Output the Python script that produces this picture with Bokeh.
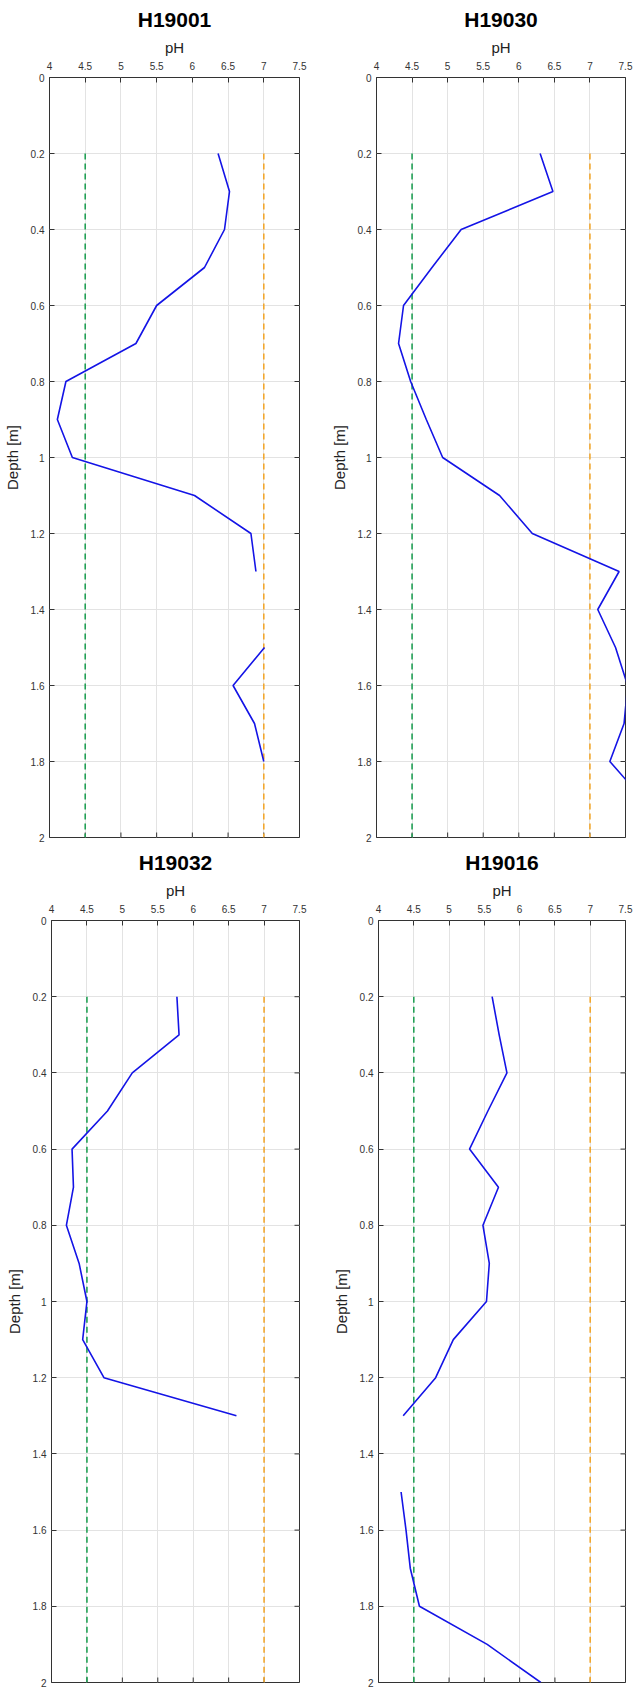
from bokeh.plotting import figure
from bokeh.models import Range1d, FixedTicker, CustomJSTickFormatter
from bokeh.layouts import column, row
from bokeh.embed import file_html
from bokeh.resources import INLINE
import math

nan = float("nan")

# ---- data ----
site_names = ["H19001", "H19030", "H19032", "H19016"]

depth_h19001 = [0.2, 0.3, 0.4, 0.5, 0.6, 0.7, 0.8, 0.9, 1.0, 1.1, 1.2, 1.3, 1.4, 1.5, 1.6, 1.7, 1.8]
ph_h19001 = [6.36, 6.52, 6.45, 6.17, 5.50, 5.21, 4.23, 4.11, 4.32, 6.03, 6.82, 6.89, nan, 7.01, 6.57, 6.87, 7.00]

depth_h19030 = [0.2, 0.3, 0.4, 0.5, 0.6, 0.7, 0.8, 0.9, 1.0, 1.1, 1.2, 1.3, 1.4, 1.5, 1.6, 1.7, 1.8, 1.9]
ph_h19030 = [6.30, 6.48, 5.19, 4.78, 4.38, 4.31, 4.48, 4.70, 4.93, 5.73, 6.19, 7.41, 7.11, 7.36, 7.53, 7.48, 7.28, 7.75]

depth_h19032 = [0.2, 0.3, 0.4, 0.5, 0.6, 0.7, 0.8, 0.9, 1.0, 1.1, 1.2, 1.3]
ph_h19032 = [5.77, 5.80, 5.14, 4.79, 4.29, 4.31, 4.21, 4.39, 4.50, 4.44, 4.74, 6.61]

depth_h19016 = [0.2, 0.3, 0.4, 0.5, 0.6, 0.7, 0.8, 0.9, 1.0, 1.1, 1.2, 1.3, 1.4, 1.5, 1.6, 1.7, 1.8, 1.9, 2.0]
ph_h19016 = [5.61, 5.71, 5.82, 5.55, 5.29, 5.70, 5.48, 5.57, 5.53, 5.06, 4.81, 4.35, nan, 4.32, 4.39, 4.45, 4.58, 5.54, 6.30]

limit_low = 4.5
limit_high = 7.0
limit_depths = [0.2, 2.0]

x_ticks = [4, 4.5, 5, 5.5, 6, 6.5, 7, 7.5]
y_ticks = [0, 0.2, 0.4, 0.6, 0.8, 1.0, 1.2, 1.4, 1.6, 1.8, 2.0]

FONT = "Liberation Sans"
AX_COLOR = "#333333"


def style_axis(ax):
    ax.major_tick_in = 5
    ax.major_tick_out = 0
    ax.minor_tick_line_color = None
    ax.axis_line_color = None
    ax.major_tick_line_color = AX_COLOR
    ax.major_tick_line_width = 1
    ax.formatter = CustomJSTickFormatter(code="return String(Number(tick.toFixed(2)));")
    ax.major_label_text_font = FONT
    ax.major_label_text_font_size = "10px"
    ax.major_label_text_color = AX_COLOR
    ax.axis_label_text_font = FONT
    ax.axis_label_text_font_size = "15px"
    ax.axis_label_text_font_style = "normal"
    ax.axis_label_text_color = "#222222"


def panel(name, depth, ph, width, height, bl, br, bt, bb):
    p = figure(width=width, height=height, output_backend="svg", toolbar_location=None,
               x_range=Range1d(x_ticks[0], x_ticks[-1]), y_range=Range1d(y_ticks[-1], y_ticks[0]),
               x_axis_location="above", y_axis_location="left",
               min_border_left=bl, min_border_right=br,
               min_border_top=bt, min_border_bottom=bb, title=name)
    p.title.text_font = FONT
    p.title.text_font_size = "21px"
    p.title.text_font_style = "bold"
    p.title.text_color = "black"
    p.title.align = "center"
    p.title.standoff = 10

    xt = FixedTicker(ticks=x_ticks)
    yt = FixedTicker(ticks=y_ticks)
    p.xaxis.ticker = xt
    p.yaxis.ticker = yt
    p.xaxis.axis_label = "pH"
    p.yaxis.axis_label = "Depth [m]"
    for ax in p.xaxis + p.yaxis:
        style_axis(ax)
    p.xaxis.major_label_standoff = 8
    p.yaxis.major_label_standoff = 5
    p.xaxis.axis_label_standoff = 3
    p.yaxis.axis_label_standoff = 7

    p.xgrid.ticker = xt
    p.ygrid.ticker = yt
    p.xgrid.grid_line_color = "#e3e3e3"
    p.ygrid.grid_line_color = "#e3e3e3"
    p.outline_line_color = AX_COLOR
    p.outline_line_width = 1
    p.outline_line_alpha = 1
    p.background_fill_color = "white"
    p.border_fill_color = "white"

    # inward tick marks on the right and bottom edges of the box
    p.ray(x=[x_ticks[-1]] * len(y_ticks), y=y_ticks, length=5, length_units="screen",
          angle=math.pi, line_color=AX_COLOR, line_width=1)
    p.ray(x=x_ticks, y=[y_ticks[-1]] * len(x_ticks), length=5, length_units="screen",
          angle=math.pi / 2, line_color=AX_COLOR, line_width=1)

    p.line([limit_low, limit_low], limit_depths, line_color="#22a055", line_width=1.6, line_dash="6 4")
    p.line([limit_high, limit_high], limit_depths, line_color="#f2a72e", line_width=1.6, line_dash="6 4")
    p.line(ph, depth, line_color="#1414e6", line_width=1.6)
    return p


p1 = panel(site_names[0], depth_h19001, ph_h19001, 317, 843, 49, 18, 76, 6)
p2 = panel(site_names[1], depth_h19030, ph_h19030, 317, 843, 59, 9, 76, 6)
p3 = panel(site_names[2], depth_h19032, ph_h19032, 317, 847, 51, 18, 76, 8)
p4 = panel(site_names[3], depth_h19016, ph_h19016, 317, 847, 61, 9, 76, 8)

layout = column(row(p1, p2), row(p3, p4))

open("out.html", "w").write(file_html(layout, INLINE))
